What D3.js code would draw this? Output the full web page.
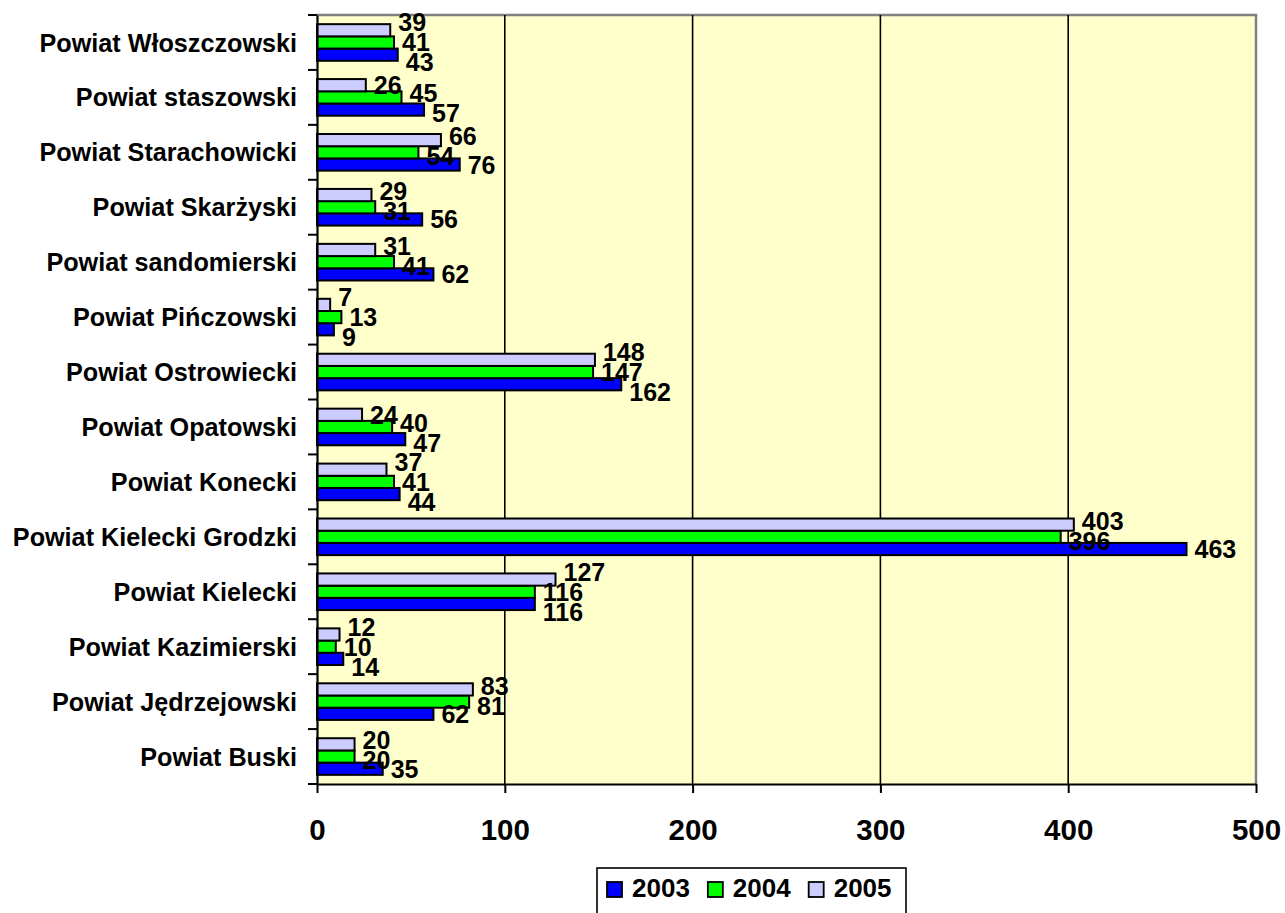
<!DOCTYPE html>
<html>
<head>
<meta charset="utf-8">
<script src="https://cdn.jsdelivr.net/npm/d3@7"></script>
<style>
  body { margin: 0; background: #fff; }
  svg { display: block; font-family: "Liberation Sans", Arial, sans-serif; font-weight: bold; }
</style>
</head>
<body>
<svg id="chart" width="1285" height="913"></svg>
<script>
// Data (bottom to top as in the source chart)
const categories = [
  "Powiat Buski", "Powiat Jędrzejowski", "Powiat Kazimierski", "Powiat Kielecki",
  "Powiat Kielecki Grodzki", "Powiat Konecki", "Powiat Opatowski", "Powiat Ostrowiecki",
  "Powiat Pińczowski", "Powiat sandomierski", "Powiat Skarżyski", "Powiat Starachowicki",
  "Powiat staszowski", "Powiat Włoszczowski"
];
const years = ["2003", "2004", "2005"];
const values2003 = [35, 62, 14, 116, 463, 44, 47, 162, 9, 62, 56, 76, 57, 43];
const values2004 = [20, 81, 10, 116, 396, 41, 40, 147, 13, 41, 31, 54, 45, 41];
const values2005 = [20, 83, 12, 127, 403, 37, 24, 148, 7, 31, 29, 66, 26, 39];
const xTicks = [0, 100, 200, 300, 400, 500];
const colors = { "2003": "#0000FF", "2004": "#00FF00", "2005": "#CCCCFF" };

const series = { "2003": values2003, "2004": values2004, "2005": values2005 };

const svg = d3.select("#chart");
const plot = { left: 317, right: 1256, top: 15, bottom: 784 };
const font = "'Liberation Sans', Arial, sans-serif";

// Scales
const x = d3.scaleLinear().domain([0, 500]).range([plot.left, plot.right]);
const y = d3.scaleBand()
  .domain(categories.slice().reverse())
  .range([plot.top, plot.bottom])
  .paddingInner(1 / 3)
  .paddingOuter(1 / 6);
const yInner = d3.scaleBand()
  .domain(["2005", "2004", "2003"])
  .range([0, y.bandwidth()]);

// Plot background
svg.append("rect")
  .attr("x", plot.left).attr("y", plot.top)
  .attr("width", plot.right - plot.left).attr("height", plot.bottom - plot.top)
  .attr("fill", "#FFFFCC");

// Grey frame on top and right
svg.append("path")
  .attr("d", `M${plot.left},${plot.top}H${plot.right}V${plot.bottom}`)
  .attr("fill", "none").attr("stroke", "#808080").attr("stroke-width", 2.5);

// Vertical gridlines
svg.append("g").selectAll("line")
  .data(xTicks.filter(d => d > 0 && d < 500))
  .join("line")
  .attr("x1", d => x(d)).attr("x2", d => x(d))
  .attr("y1", plot.top).attr("y2", plot.bottom)
  .attr("stroke", "#000").attr("stroke-width", 1.6);

// Bars
const rows = categories.map((c, i) => ({
  cat: c,
  items: years.map(yr => ({ year: yr, value: series[yr][i] }))
}));

const groups = svg.append("g").selectAll("g")
  .data(rows)
  .join("g")
  .attr("transform", d => `translate(0,${y(d.cat)})`);

groups.selectAll("rect")
  .data(d => d.items)
  .join("rect")
  .attr("x", x(0))
  .attr("y", d => yInner(d.year))
  .attr("width", d => x(d.value) - x(0))
  .attr("height", yInner.bandwidth())
  .attr("fill", d => colors[d.year])
  .attr("stroke", "#000")
  .attr("stroke-width", 2);

// Axes
const xAxis = svg.append("g")
  .attr("transform", `translate(0,${plot.bottom})`)
  .call(d3.axisBottom(x).tickValues(xTicks).tickSize(9).tickSizeOuter(0).tickFormat(d3.format("d")));
xAxis.select(".domain").attr("stroke", "#000").attr("stroke-width", 2.2);
xAxis.selectAll(".tick line").attr("stroke", "#000").attr("stroke-width", 2);
xAxis.selectAll(".tick text")
  .attr("y", 56).attr("dy", 0)
  .attr("font-size", 29.5).attr("font-weight", "bold")
  .attr("font-family", font)
  .attr("fill", "#000");

const yAxis = svg.append("g")
  .attr("transform", `translate(${plot.left},0)`)
  .call(d3.axisLeft(y).tickSize(0).tickPadding(20).tickSizeOuter(0));
yAxis.select(".domain").attr("stroke", "#000").attr("stroke-width", 2.2);
yAxis.selectAll(".tick text")
  .attr("font-size", 25.2).attr("font-weight", "bold")
  .attr("font-family", font)
  .attr("fill", "#000").attr("dy", "0.36em");

// Category boundary ticks
const bounds = d3.range(categories.length + 1).map(i => plot.top + i * y.step());
svg.append("g").selectAll("line")
  .data(bounds)
  .join("line")
  .attr("x1", plot.left - 9).attr("x2", plot.left)
  .attr("y1", d => d).attr("y2", d => d)
  .attr("stroke", "#000").attr("stroke-width", 2);

// Data labels with simple overlap avoidance inside each category
const labelSize = 25;
const labelH = 20;
const labelLayer = svg.append("g")
  .attr("font-size", labelSize).attr("fill", "#000");

rows.forEach(row => {
  const labels = row.items.map(it => {
    const t = labelLayer.append("text")
      .attr("x", x(it.value) + 8)
      .attr("dy", "0.36em")
      .text(it.value);
    const w = t.node().getComputedTextLength();
    return { node: t, x0: x(it.value) + 8, x1: x(it.value) + 8 + w,
             cy: y(row.cat) + yInner(it.year) + yInner.bandwidth() / 2 };
  });
  for (let k = 0; k < 60; k++) {
    for (let i = 0; i < labels.length; i++) {
      for (let j = i + 1; j < labels.length; j++) {
        const a = labels[i], b = labels[j];
        if (a.x1 <= b.x0 || b.x1 <= a.x0) continue;
        const d = Math.abs(a.cy - b.cy);
        if (d < labelH) {
          const push = (labelH - d) / 2;
          const s = a.cy <= b.cy ? -1 : 1;
          a.cy += s * push;
          b.cy -= s * push;
        }
      }
    }
  }
  labels.forEach(l => l.node.attr("y", l.cy));
});

// Legend
const legend = svg.append("g");
legend.append("rect")
  .attr("x", 597).attr("y", 868).attr("width", 309).attr("height", 70)
  .attr("fill", "#fff").attr("stroke", "#000").attr("stroke-width", 1.6);

let lx = 607;
years.forEach(yr => {
  legend.append("rect")
    .attr("x", lx).attr("y", 882).attr("width", 15).attr("height", 15)
    .attr("fill", colors[yr]).attr("stroke", "#000").attr("stroke-width", 1.8);
  const t = legend.append("text")
    .attr("x", lx + 25).attr("y", 897)
    .attr("font-size", 26).attr("fill", "#000")
    .text(yr);
  lx += 25 + t.node().getComputedTextLength() + 18;
});
</script>
</body>
</html>
